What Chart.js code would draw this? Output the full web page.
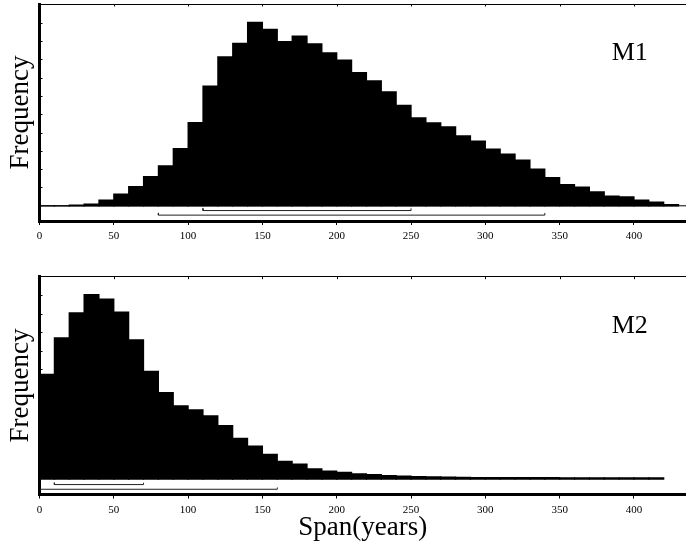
<!DOCTYPE html>
<html><head><meta charset="utf-8">
<style>
html,body{margin:0;padding:0;background:#fff;width:686px;height:546px;overflow:hidden}
canvas{position:absolute;left:0}
#c1{top:0}
#c2{top:250px}
</style>
<script src="https://cdn.jsdelivr.net/npm/chart.js@4.4.0/dist/chart.umd.min.js"></script>
</head><body>
<canvas id="c1" width="686" height="250"></canvas>
<canvas id="c2" width="686" height="296"></canvas>
<script>
// ---- data (span in years, bin width 10) ----
const binStartsM1 = [0,10,20,30,40,50,60,70,80,90,100,110,120,130,140,150,160,170,180,190,200,210,220,230,240,250,260,270,280,290,300,310,320,330,340,350,360,370,380,390,400,410,420];
const freqM1 = [0,0,0.4,0.9,3.1,6.4,10.5,16.0,21.8,31.3,45.4,65.3,81.4,88.7,100.2,96.4,89.6,92.7,88.5,83.5,79.5,72.7,68.2,62.2,54.9,48.0,45.3,43.1,38.2,35.3,30.9,28.2,24.9,20.0,15.4,11.6,10.2,7.6,5.3,4.9,3.1,2.0,0.7];
const binStartsM2 = [0,10,20,30,40,50,60,70,80,90,100,110,120,130,140,150,160,170,180,190,200,210,220,230,240,250,260,270,280,290,300,310,320,330,340,350,360,370,380,390,400,410];
const freqM2 = [57.1,76.9,90.5,100.5,98.0,90.9,75.8,58.7,47.1,40.0,37.8,34.5,29.2,22.2,18.0,13.5,9.8,8.2,5.6,4.4,3.7,2.9,2.5,2.0,1.7,1.5,1.3,1.1,1.0,0.9,0.9,0.9,0.9,0.9,0.9,0.8,0.8,0.8,0.8,0.8,0.8,0.8];
const intervalsM1 = [[110,250],[80,340]];
const intervalsM2 = [[10,70],[0,160]];
const xTickValues = [0,50,100,150,200,250,300,350,400];
const yTickValues = [10,20,30,40,50,60,70,80,90,100];
const panelLabels = ['M1','M2'];
const binWidth = 10;

Chart.defaults.font.family = '"Liberation Serif","Times New Roman",serif';
Chart.defaults.color = '#000';

const decorPlugin = {
  id: 'decor',
  afterDraw(chart, args, opts) {
    const {ctx, chartArea, scales} = chart;
    ctx.save();
    ctx.strokeStyle = '#000';
    ctx.lineWidth = 1;
    ctx.beginPath();
    xTickValues.forEach(v => {
      const px = Math.round(scales.x.getPixelForValue(v)) + 0.5;
      ctx.moveTo(px, chartArea.top);
      ctx.lineTo(px, chartArea.top + 2.5);
    });
    yTickValues.forEach(v => {
      const py = Math.round(scales.y.getPixelForValue(v)) + 0.5;
      ctx.moveTo(chartArea.left, py);
      ctx.lineTo(chartArea.left + 3, py);
    });
    ctx.stroke();
    ctx.fillStyle = '#000';
    ctx.font = '26px "Liberation Serif","Times New Roman",serif';
    ctx.textAlign = 'left';
    ctx.textBaseline = 'alphabetic';
    ctx.fillText(opts.text, scales.x.getPixelForValue(385), scales.y.getPixelForValue(79.6));
    ctx.restore();
  }
};

function bracketDataset(iv, level, rise, closedStart) {
  const pts = [];
  if (closedStart) pts.push({x: iv[0], y: level + rise});
  pts.push({x: iv[0], y: level});
  pts.push({x: iv[1], y: level});
  pts.push({x: iv[1], y: level + rise});
  return {type:'line', data: pts, borderColor:'#222', borderWidth:1, pointRadius:0, fill:false, tension:0, order:0};
}

function makeChart(id, starts, freq, intervals, label, cfg) {
  const datasets = [{
    type: 'bar',
    data: starts.map((s, i) => ({x: s + binWidth / 2, y: freq[i]})),
    backgroundColor: '#000',
    borderWidth: 0,
    barPercentage: 1,
    categoryPercentage: 1,
    inflateAmount: 0.6,
    order: 2
  }];
  intervals.forEach((iv, k) => {
    datasets.push(bracketDataset(iv, cfg.levels[k], cfg.rise, iv[0] > 0));
  });
  if (cfg.zeroLine) {
    datasets.push({type:'line', data:[{x:0,y:0},{x:435,y:0}], borderColor:'#000', borderWidth:1, pointRadius:0, fill:false, order:1});
  }
  return new Chart(document.getElementById(id), {
    type: 'bar',
    data: {datasets},
    options: {
      responsive: false,
      animation: false,
      devicePixelRatio: 1,
      layout: {padding: {top: cfg.padTop, left: 0, right: 0, bottom: 0}},
      plugins: {legend: {display: false}, tooltip: {enabled: false}, decor: {text: label}},
      scales: {
        x: {
          type: 'linear', position: 'bottom', min: 0, max: 435, offset: false,
          afterFit(s) { s.height = cfg.xAxisHeight; },
          ticks: {stepSize: 50, includeBounds: false, autoSkip: false, maxRotation: 0, padding: 5, font: {size: 11}, color: '#000'},
          grid: {display: true, offset: false, drawOnChartArea: false, drawTicks: true, tickLength: 4, color: '#000', tickColor: '#000', lineWidth: 1},
          border: {display: true, width: 3, color: '#000'},
          title: {display: cfg.showTitle, text: 'Span(years)', font: {size: 27}, color: '#000', padding: {top: 0, bottom: 2}}
        },
        xTop: {
          type: 'linear', axis: 'x', position: 'top', min: 0, max: 435, offset: false,
          afterFit(s) { s.height = 0; },
          ticks: {display: false}, grid: {display: false, offset: false},
          border: {display: true, width: 1, color: '#000'}
        },
        y: {
          type: 'linear', position: 'left', min: -8.3, max: 110.2,
          afterFit(s) { s.width = 39.5; },
          ticks: {display: false}, grid: {display: false},
          border: {display: true, width: 3, color: '#000'},
          title: {display: true, text: 'Frequency', font: {size: 27}, color: '#000', padding: {top: 5, bottom: 0}}
        }
      }
    },
    plugins: [decorPlugin]
  });
}

makeChart('c1', binStartsM1, freqM1, intervalsM1, panelLabels[0],
  {padTop: 4, xAxisHeight: 29, showTitle: false, zeroLine: true, levels: [-2.6, -5.1], rise: 1.2});
makeChart('c2', binStartsM2, freqM2, intervalsM2, panelLabels[1],
  {padTop: 26.7, xAxisHeight: 51.5, showTitle: true, zeroLine: false, levels: [-2.9, -5.45], rise: 1.0});
</script>
</body></html>
